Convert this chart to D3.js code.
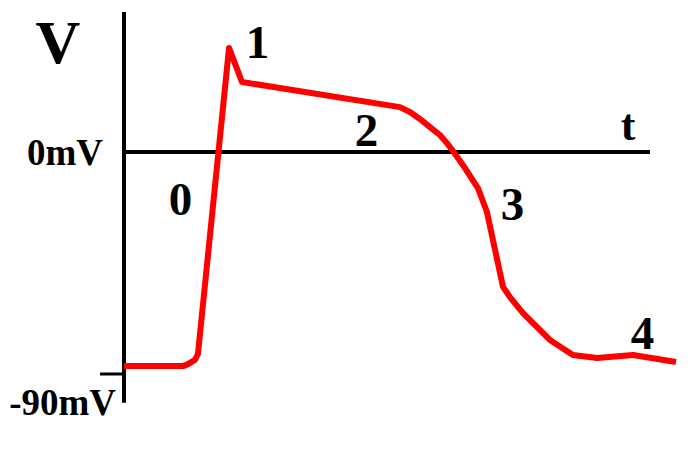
<!DOCTYPE html>
<html>
<head>
<meta charset="utf-8">
<script src="https://cdn.jsdelivr.net/npm/d3@7"></script>
<style>
  html, body { margin: 0; padding: 0; background: #fff; }
  svg { display: block; }
  text { font-family: "Liberation Serif", "Times New Roman", serif; font-weight: bold; fill: #000; }
</style>
</head>
<body>
<svg id="chart" width="700" height="450"></svg>
<script>
// time (ms) and membrane potential (mV) of the cardiac action potential
const timeMs = [0, 39.3, 42.6, 47.2, 49.2, 69.9, 78.5, 183.6, 190.3, 196.9, 203.6, 210.2, 214.9, 218.9, 226.9, 235.5, 241.5, 245.5, 252.2, 256.8, 265.5, 283.4, 298.7, 314.7, 338.7, 367.3];
const voltageMv = [-86.8, -86.8, -86.0, -84.3, -81.9, 42.2, 28.4, 18.2, 16.2, 13.4, 10.1, 6.9, 3.6, 0.4, -6.5, -14.6, -24.3, -35.7, -54.7, -58.8, -65.3, -76.2, -82.3, -83.5, -82.3, -85.1];
const phaseLabels = ["0", "1", "2", "3", "4"];
const phaseTime = [37.6, 88.8, 161.4, 258.5, 345.0];
const phaseVolt = [-25.5, 38.1, 2.4, -27.6, -79.9];
const tickValues = [0, -90];
const tickLabels = ["0mV", "-90mV"];

const svg = d3.select("#chart");
const x = d3.scaleLinear().domain([0, 350]).range([124, 650]);
const y = d3.scaleLinear().domain([-90, 0]).range([374, 152]);

// vertical axis
svg.append("line")
  .attr("x1", x(0)).attr("x2", x(0))
  .attr("y1", y(56.8)).attr("y2", y(-101.7))
  .attr("stroke", "#000").attr("stroke-width", 4);

// horizontal (0 mV) axis
svg.append("line")
  .attr("x1", x(0)).attr("x2", x(350))
  .attr("y1", y(0)).attr("y2", y(0))
  .attr("stroke", "#000").attr("stroke-width", 4);

// -90 mV tick
svg.append("line")
  .attr("x1", x(0) - 24).attr("x2", x(0))
  .attr("y1", y(-90)).attr("y2", y(-90))
  .attr("stroke", "#000").attr("stroke-width", 3);

// tick labels
svg.selectAll("text.tick").data(tickValues).enter().append("text")
  .attr("class", "tick")
  .attr("x", (d, i) => i === 0 ? x(0) - 21 : x(0) - 8)
  .attr("y", (d, i) => y(d) + (i === 0 ? 13 : 41))
  .attr("text-anchor", "end")
  .attr("font-size", 37)
  .text((d, i) => tickLabels[i]);

// axis titles
svg.append("text").attr("x", 58).attr("y", 63).attr("text-anchor", "middle")
  .attr("font-size", 62).text("V");
svg.append("text").attr("x", 628).attr("y", 140).attr("text-anchor", "middle")
  .attr("font-size", 44).text("t");

// action potential curve
const pts = timeMs.map((t, i) => [t, voltageMv[i]]);
const line = d3.line().x(d => x(d[0])).y(d => y(d[1])).curve(d3.curveLinear);
svg.append("path")
  .attr("d", line(pts))
  .attr("fill", "none")
  .attr("stroke", "#ff0000")
  .attr("stroke-width", 6)
  .attr("stroke-linejoin", "round");

// phase labels
svg.selectAll("text.phase").data(phaseLabels).enter().append("text")
  .attr("class", "phase")
  .attr("x", (d, i) => x(phaseTime[i]))
  .attr("y", (d, i) => y(phaseVolt[i]))
  .attr("text-anchor", "middle")
  .attr("font-size", 47)
  .text(d => d);
</script>
</body>
</html>
